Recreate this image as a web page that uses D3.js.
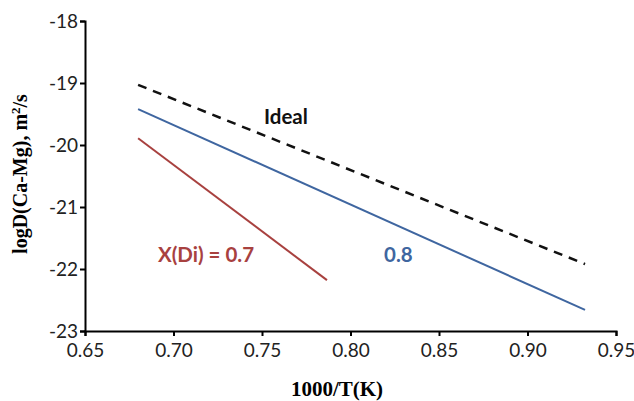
<!DOCTYPE html>
<html lang="en">

<head>
    <meta charset="UTF-8" />
    <script src="https://d3js.org/d3.v7.min.js"></script>
    <title>logD vs 1000/T</title>
    <style>
        body { margin: 0; background: #fff; }
    </style>
</head>

<body>
    <script>
        const width = 634,
            height = 401

        // data: two end points of each line
        const xValues = [0.68, 0.7867]
        const redValues = [-19.89, -22.18]
        const blueX = [0.68, 0.9325]
        const blueValues = [-19.42, -22.66]
        const idealX = [0.68, 0.9325]
        const idealValues = [-19.03, -21.92]
        const xTicks = [0.65, 0.70, 0.75, 0.80, 0.85, 0.90, 0.95]
        const yTicks = [-23, -22, -21, -20, -19, -18]

        const svg = d3.select('body').append('svg').attr('width', width).attr('height', height)

        const x = d3.scaleLinear().domain([0.65, 0.95]).range([85, 616])
        const y = d3.scaleLinear().domain([-23, -18]).range([331, 21])

        const tickFont = 'Lato, "Open Sans", sans-serif'

        // axes
        const xAxis = svg.append('g').attr('transform', 'translate(0,' + y(-23) + ')')
            .call(d3.axisBottom(x).tickValues(xTicks).tickFormat(d3.format('.2f')).tickSizeOuter(0).tickSize(5))
        const yAxis = svg.append('g').attr('transform', 'translate(' + x(0.65) + ',0)')
            .call(d3.axisLeft(y).tickValues(yTicks).tickFormat(d => d).tickSizeOuter(0).tickSize(5))

        ;[xAxis, yAxis].forEach(g => {
            g.select('.domain').attr('stroke', '#000').attr('stroke-width', 2)
            g.selectAll('.tick line').attr('stroke', '#000').attr('stroke-width', 2)
            g.selectAll('.tick text').attr('fill', '#222').style('font-family', tickFont).style('font-size', '19px')
        })
        xAxis.selectAll('.tick text').attr('dy', '0.95em')
        yAxis.selectAll('.tick text').attr('x', -7)

        // lines
        const line = d3.line().x(d => x(d[0])).y(d => y(d[1]))

        svg.append('path').datum(d3.zip(idealX, idealValues)).attr('d', line)
            .attr('fill', 'none').attr('stroke', '#111').attr('stroke-width', 2.5).attr('stroke-dasharray', '9,7')
        svg.append('path').datum(d3.zip(blueX, blueValues)).attr('d', line)
            .attr('fill', 'none').attr('stroke', '#3f66a0').attr('stroke-width', 2)
        svg.append('path').datum(d3.zip(xValues, redValues)).attr('d', line)
            .attr('fill', 'none').attr('stroke', '#a8413f').attr('stroke-width', 2)

        // labels
        const labelFont = 'Lato, "Open Sans", sans-serif'
        svg.append('text').attr('x', 264).attr('y', 124).text('Ideal')
            .attr('fill', '#111').style('font-family', labelFont).style('font-weight', 'bold').style('font-size', '20.5px')
        svg.append('text').attr('x', 158).attr('y', 262).text('X(Di) = 0.7')
            .attr('fill', '#a8413f').style('font-family', labelFont).style('font-weight', 'bold').style('font-size', '20.5px')
        svg.append('text').attr('x', 384).attr('y', 262).text('0.8')
            .attr('fill', '#3f66a0').style('font-family', labelFont).style('font-weight', 'bold').style('font-size', '20.5px')

        // axis titles
        svg.append('text').attr('x', 337).attr('y', 396).attr('text-anchor', 'middle').text('1000/T(K)')
            .style('font-family', '"Liberation Serif", serif').style('font-weight', 'bold').style('font-size', '21px')
        const yt = svg.append('text').attr('transform', 'translate(27,174) rotate(-90)').attr('text-anchor', 'middle')
            .style('font-family', '"Liberation Serif", serif').style('font-weight', 'bold').style('font-size', '20px')
        yt.append('tspan').text('logD(Ca-Mg), m')
        yt.append('tspan').attr('dy', -7).style('font-size', '13px').text('2')
        yt.append('tspan').attr('dy', 7).text('/s')
    </script>
</body>

</html>
